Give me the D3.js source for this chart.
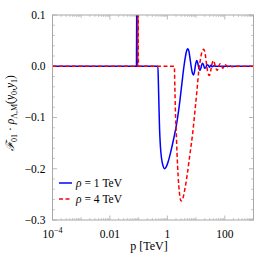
<!DOCTYPE html>
<html>
<head>
<meta charset="utf-8">
<script src="https://cdn.jsdelivr.net/npm/d3@7"></script>
<style>
  body { margin: 0; background: #fff; }
  text { font-family: "Liberation Serif", "DejaVu Serif", serif; }
</style>
</head>
<body>
<div id="chart"></div>
<script>
// p in TeV
var blueP = [1e-4, 0.0840, 0.0862, 0.0874, 0.0887, 0.0905, 0.468, 0.486, 0.506, 0.536, 0.571, 0.618, 0.697, 0.800, 0.923,
  1.084, 1.324, 1.683, 2.138, 2.723, 3.19, 3.75, 4.23, 4.76, 5.16, 5.60, 6.17, 6.73, 7.41, 8.15, 8.83, 9.57,
  10.6, 11.7, 12.7, 13.7, 15.0, 16.5, 18.2, 19.8, 21.8, 24.0, 26.7, 29.4, 32.6, 36.7, 41.4, 48.6, 1000];
var blueV = [0, 0, 0.15, 0.4, 0.02, 0, 0, -0.03, -0.07, -0.123, -0.155, -0.177, -0.193, -0.200, -0.196,
  -0.185, -0.166, -0.140, -0.110, -0.068, -0.035, -0.002, 0.018, 0.031, 0.034, 0.030, 0.015, 0.0, -0.013, -0.017, -0.010, 0.003,
  0.011, 0.004, -0.005, -0.008, -0.002, 0.006, 0.003, -0.004, -0.003, 0.003, 0.002, -0.002, 0.002, -0.001, 0.001, 0, 0];

var redP = [1e-4, 0.0920, 0.0945, 0.0958, 0.0972, 0.0995, 1.750, 1.824, 1.914, 2.023, 2.173, 2.377, 2.612, 3.020, 3.459,
  4.064, 4.966, 6.067, 7.709, 9.419, 11.04, 12.47, 14.06, 15.85, 18.62, 20.65, 22.91, 25.23, 28.91, 32.06, 35.32,
  40.46, 44.87, 49.77, 54.83, 60.81, 68.08, 75.51, 83.75, 92.26, 104.0, 117.5, 132.4, 149.3, 175.0, 222.8, 1000];
var redV = [0, 0, 0.15, 0.4, 0.02, 0, 0, -0.04, -0.09, -0.123, -0.170, -0.215, -0.245, -0.263, -0.258,
  -0.240, -0.210, -0.173, -0.128, -0.080, -0.040, -0.008, 0.012, 0.027, 0.033, 0.025, 0.006, -0.010, -0.018, -0.010, 0.003,
  0.011, 0.004, -0.005, -0.008, -0.002, 0.005, 0.003, -0.004, -0.002, 0.003, 0.001, -0.002, 0.001, -0.001, 0, 0];

var xMajor = [1e-4, 1e-2, 1, 100];
var xLabels = ["10", "0.01", "1", "100"];
var yMajor = [0.1, 0, -0.1, -0.2, -0.3];
var yLabels = ["0.1", "0.0", "\u22120.1", "\u22120.2", "\u22120.3"];
var legendNames = ["1 TeV", "4 TeV"];

var W = 256, H = 261;
var m = {left: 52.5, right: 253.5, top: 15, bottom: 220};
var frameCol = "#a8a8a8";

var svg = d3.select("#chart").append("svg")
    .attr("width", W).attr("height", H);

var x = d3.scaleLog().domain([1e-4, 1000]).range([m.left, m.right]);
var y = d3.scaleLinear().domain([-0.3, 0.1]).range([m.bottom, m.top]);

svg.append("clipPath").attr("id", "clip")
  .append("rect").attr("x", m.left).attr("y", m.top)
    .attr("width", m.right - m.left).attr("height", m.bottom - m.top);

// ticks, x (log)
var xMinor = [];
for (var n = -4; n < 3; n++) {
  for (var k = 2; k <= 9; k++) xMinor.push(k * Math.pow(10, n));
}
[1e-3, 0.1, 10].forEach(function(v) { xMinor.push(v); });

var g = svg.append("g");
xMinor.forEach(function(v) {
  var px = x(v), len = ([1e-3, 0.1, 10].indexOf(v) >= 0) ? 3 : 2;
  g.append("line").attr("x1", px).attr("x2", px).attr("y1", m.bottom).attr("y2", m.bottom - len)
    .attr("stroke", frameCol).attr("stroke-width", 0.6);
  g.append("line").attr("x1", px).attr("x2", px).attr("y1", m.top).attr("y2", m.top + len)
    .attr("stroke", frameCol).attr("stroke-width", 0.6);
});
xMajor.forEach(function(v) {
  var px = x(v);
  g.append("line").attr("x1", px).attr("x2", px).attr("y1", m.bottom).attr("y2", m.bottom - 4.5)
    .attr("stroke", frameCol).attr("stroke-width", 0.8);
  g.append("line").attr("x1", px).attr("x2", px).attr("y1", m.top).attr("y2", m.top + 4.5)
    .attr("stroke", frameCol).attr("stroke-width", 0.8);
});

// ticks, y
d3.range(-15, 6).forEach(function(i) {
  var v = i * 0.02, py = y(v), major = (i % 5 === 0);
  var len = major ? 4.5 : 2.5;
  g.append("line").attr("x1", m.left).attr("x2", m.left + len).attr("y1", py).attr("y2", py)
    .attr("stroke", frameCol).attr("stroke-width", major ? 0.8 : 0.6);
  g.append("line").attr("x1", m.right).attr("x2", m.right - len).attr("y1", py).attr("y2", py)
    .attr("stroke", frameCol).attr("stroke-width", major ? 0.8 : 0.6);
});

// curves
var line = d3.line()
    .x(function(d) { return x(d[0]); })
    .y(function(d) { return y(d[1]); })
    .curve(d3.curveMonotoneX);

var plot = svg.append("g").attr("clip-path", "url(#clip)");
plot.append("path")
    .attr("d", line(d3.zip(blueP, blueV)))
    .attr("fill", "none").attr("stroke", "#0000ff").attr("stroke-width", 1.5);
plot.append("path")
    .attr("d", line(d3.zip(redP, redV)))
    .attr("fill", "none").attr("stroke", "#ff0000").attr("stroke-width", 1.5)
    .attr("stroke-dasharray", "4,2.5");

// frame
svg.append("rect").attr("x", m.left).attr("y", m.top)
    .attr("width", m.right - m.left).attr("height", m.bottom - m.top)
    .attr("fill", "none").attr("stroke", frameCol).attr("stroke-width", 1);

// tick labels
yMajor.forEach(function(v, i) {
  svg.append("text").attr("x", m.left - 7).attr("y", y(v) + 3.8)
    .attr("text-anchor", "end").attr("font-size", 11.5).text(yLabels[i]);
});
xMajor.forEach(function(v, i) {
  var t = svg.append("text").attr("x", x(v)).attr("y", 237.5)
    .attr("text-anchor", "middle").attr("font-size", 11.5);
  t.append("tspan").text(xLabels[i]);
  if (i === 0) t.append("tspan").attr("dy", -5).attr("font-size", 8).text("\u22124");
});

// axis labels
svg.append("text").attr("x", 149).attr("y", 249.5)
  .attr("text-anchor", "middle").attr("font-size", 12).text("p [TeV]");

var yl = svg.append("text")
  .attr("transform", "translate(14,113) rotate(-90)")
  .attr("text-anchor", "middle").attr("font-size", 11.5);
yl.append("tspan").attr("font-style", "italic").text("\u2131");
yl.append("tspan").attr("dy", 2.5).attr("font-size", 8).text("01");
yl.append("tspan").attr("dy", -2.5).text(" \u00b7 ");
yl.append("tspan").attr("font-style", "italic").text("\u03c1");
yl.append("tspan").attr("dy", 2.5).attr("font-size", 8).text("\u039b,M");
yl.append("tspan").attr("dy", -2.5).text("(");
yl.append("tspan").attr("font-style", "italic").text("y");
yl.append("tspan").attr("dy", 2.5).attr("font-size", 8).text("0");
yl.append("tspan").attr("dy", -2.5).text(",");
yl.append("tspan").attr("font-style", "italic").text("y");
yl.append("tspan").attr("dy", 2.5).attr("font-size", 8).text("1");
yl.append("tspan").attr("dy", -2.5).text(")");

// legend
var legCols = ["#0000ff", "#ff0000"];
legendNames.forEach(function(name, i) {
  var ly = 183 + i * 16;
  svg.append("line").attr("x1", 59).attr("x2", 72).attr("y1", ly).attr("y2", ly)
    .attr("stroke", legCols[i]).attr("stroke-width", 1.5)
    .attr("stroke-dasharray", i === 1 ? "4,2.5" : null);
  var t = svg.append("text").attr("x", 76).attr("y", ly + 4).attr("font-size", 11.5);
  t.append("tspan").attr("font-style", "italic").text("\u03c1");
  t.append("tspan").text(" = " + name);
});
</script>
</body>
</html>
